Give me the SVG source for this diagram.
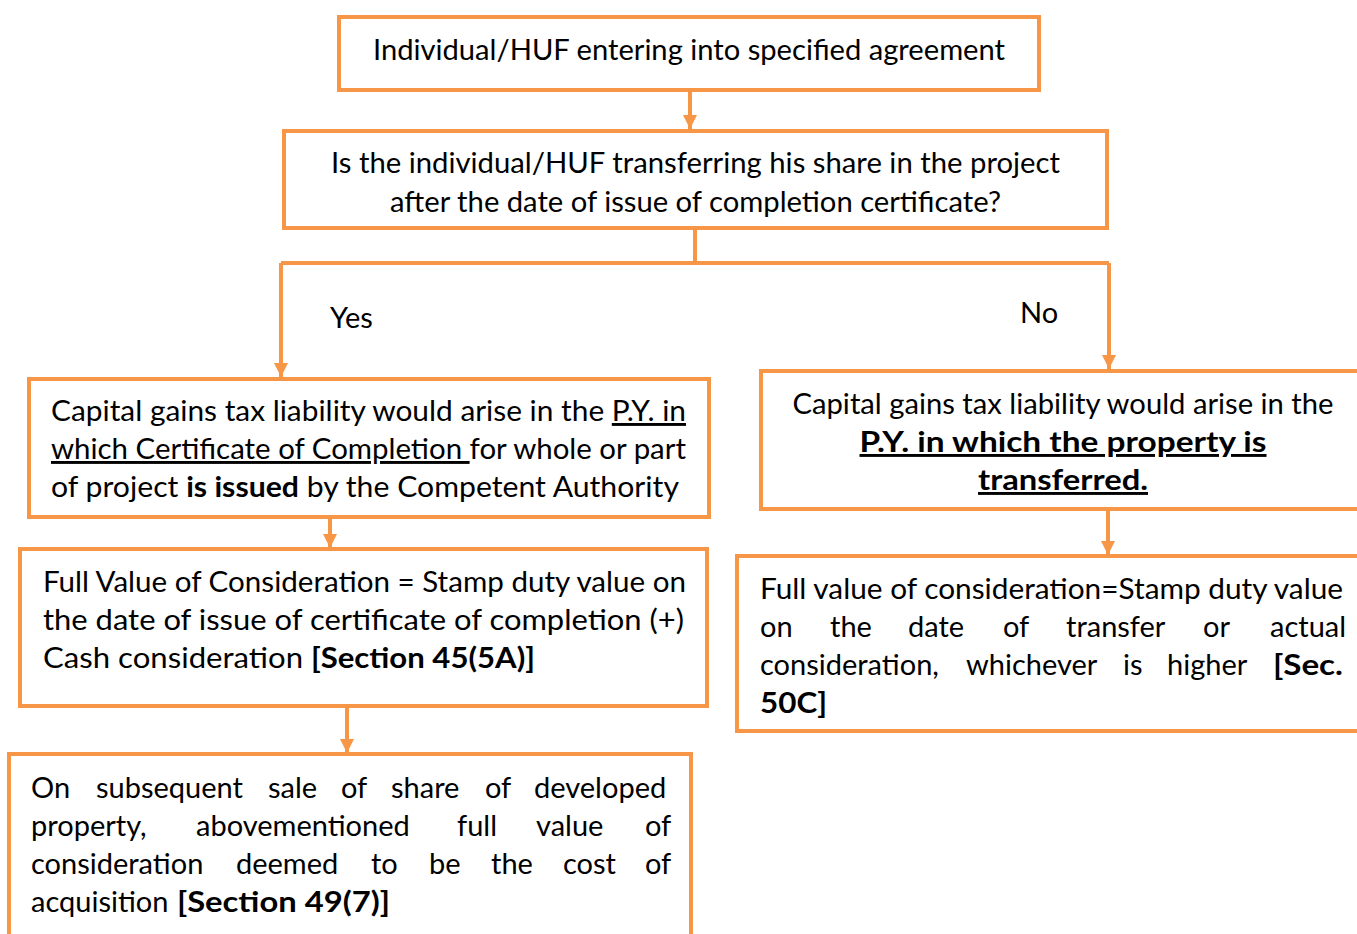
<svg xmlns="http://www.w3.org/2000/svg" width="1357" height="934" viewBox="0 0 1357 934">
<style>
.box{fill:#fff;stroke:#F79646;stroke-width:4}
.con{fill:none;stroke:#F79646;stroke-width:4}
.t{font-family:Lato,"Open Sans","Liberation Sans",sans-serif;font-size:29px;fill:#000}
.b{font-weight:bold}
.u{text-decoration:underline}
.c{text-anchor:middle}
</style>
<defs>
<marker id="ah" markerUnits="userSpaceOnUse" markerWidth="16" markerHeight="16" refX="14" refY="7" orient="auto">
<path d="M0,0 L14,7 L0,14 z" fill="#F79646"/>
</marker>
</defs>
<rect width="1357" height="934" fill="#fff"/>
<g id="connectors">
<line class="con" x1="690" y1="91" x2="690" y2="129" marker-end="url(#ah)"/>
<polyline class="con" points="695,230 695,263"/>
<polyline class="con" points="281,263 1109,263"/>
<line class="con" x1="281" y1="263" x2="281" y2="377" marker-end="url(#ah)"/>
<line class="con" x1="1109" y1="263" x2="1109" y2="369" marker-end="url(#ah)"/>
<line class="con" x1="330" y1="517" x2="330" y2="548" marker-end="url(#ah)"/>
<line class="con" x1="347" y1="707" x2="347" y2="753" marker-end="url(#ah)"/>
<line class="con" x1="1108" y1="509" x2="1108" y2="555" marker-end="url(#ah)"/>
<text class="t" x="330" y="328">Yes</text>
<text class="t" x="1020" y="323">No</text>
</g>
<g id="n1">
<rect class="box" x="339" y="17" width="700" height="73"/>
<text class="t" x="373" y="60" textLength="632" lengthAdjust="spacingAndGlyphs">Individual/HUF entering into specified agreement</text>
</g>
<g id="n2">
<rect class="box" x="284" y="131" width="823" height="97"/>
<text class="t" x="331" y="173" textLength="729" lengthAdjust="spacingAndGlyphs">Is the individual/HUF transferring his share in the project</text>
<text class="t" x="390" y="212" textLength="611" lengthAdjust="spacingAndGlyphs">after the date of issue of completion certificate?</text>
</g>
<g id="n3">
<rect class="box" x="29" y="379" width="680" height="138"/>
<text class="t" x="51" y="421" textLength="635" lengthAdjust="spacingAndGlyphs">Capital gains tax liability would arise in the <tspan class="u">P.Y. in</tspan></text>
<text class="t" x="51" y="459" textLength="635" lengthAdjust="spacingAndGlyphs"><tspan class="u">which Certificate of Completion </tspan>for whole or part</text>
<text class="t" x="51" y="497" textLength="628" lengthAdjust="spacingAndGlyphs">of project <tspan class="b">is issued</tspan> by the Competent Authority</text>
</g>
<g id="n4">
<rect class="box" x="761" y="371" width="620" height="138"/>
<text class="t c" x="1063" y="414" textLength="541" lengthAdjust="spacingAndGlyphs">Capital gains tax liability would arise in the</text>
<text class="t c b u" x="1063" y="452" textLength="407" lengthAdjust="spacingAndGlyphs">P.Y. in which the property is</text>
<text class="t c b u" x="1063" y="490" textLength="170" lengthAdjust="spacingAndGlyphs">transferred.</text>
</g>
<g id="n5">
<rect class="box" x="20" y="549" width="687" height="157"/>
<text class="t" x="43" y="592" textLength="643" lengthAdjust="spacingAndGlyphs">Full Value of Consideration = Stamp duty value on</text>
<text class="t" x="43" y="630" textLength="641" lengthAdjust="spacingAndGlyphs">the date of issue of certificate of completion (+)</text>
<text class="t" x="43" y="668" textLength="492" lengthAdjust="spacingAndGlyphs">Cash consideration <tspan class="b">[Section 45(5A)]</tspan></text>
</g>
<g id="n6">
<rect class="box" x="9" y="754" width="682" height="200"/>
<text class="t" y="798"><tspan x="31">On</tspan><tspan x="96">subsequent</tspan><tspan x="268">sale</tspan><tspan x="341">of</tspan><tspan x="391">share</tspan><tspan x="485">of</tspan><tspan x="534">developed</tspan></text>
<text class="t" y="836"><tspan x="31">property,</tspan><tspan x="196">abovementioned</tspan><tspan x="457">full</tspan><tspan x="536">value</tspan><tspan x="645">of</tspan></text>
<text class="t" y="874"><tspan x="31">consideration</tspan><tspan x="236">deemed</tspan><tspan x="371">to</tspan><tspan x="429">be</tspan><tspan x="491">the</tspan><tspan x="563">cost</tspan><tspan x="645">of</tspan></text>
<text class="t" x="31" y="912">acquisition</text>
<text class="t b" x="177" y="912" textLength="213" lengthAdjust="spacingAndGlyphs">[Section 49(7)]</text>
</g>
<g id="n7">
<rect class="box" x="737" y="556" width="640" height="175"/>
<text class="t" x="760" y="599" textLength="583" lengthAdjust="spacingAndGlyphs">Full value of consideration=Stamp duty value</text>
<text class="t" y="637"><tspan x="760">on</tspan><tspan x="830">the</tspan><tspan x="908">date</tspan><tspan x="1003">of</tspan><tspan x="1066">transfer</tspan><tspan x="1203">or</tspan><tspan x="1270">actual</tspan></text>
<text class="t" y="675"><tspan x="760">consideration,</tspan><tspan x="966">whichever</tspan><tspan x="1123">is</tspan><tspan x="1167">higher</tspan></text>
<text class="t b" x="1273" y="675" textLength="70" lengthAdjust="spacingAndGlyphs">[Sec.</text>
<text class="t b" x="760" y="713" textLength="67" lengthAdjust="spacingAndGlyphs">50C]</text>
</g>
</svg>
